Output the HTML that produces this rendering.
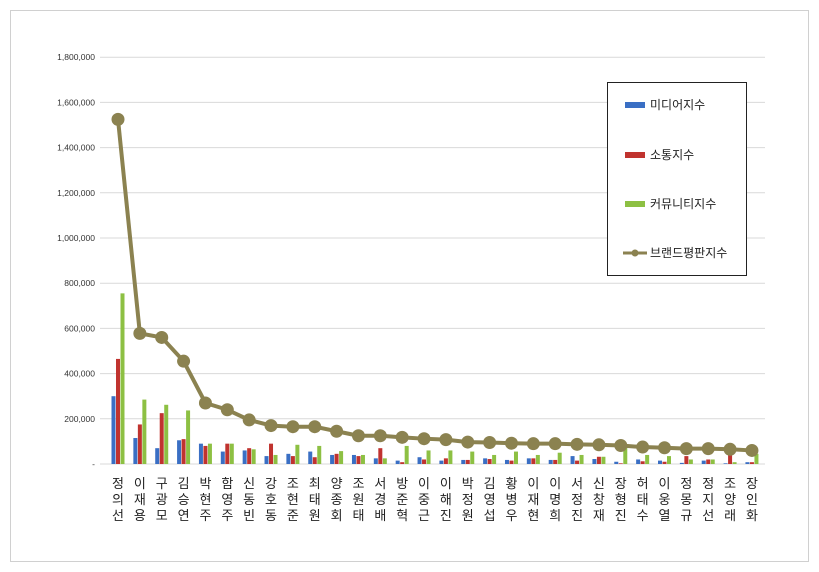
<!DOCTYPE html>
<html><head><meta charset="utf-8"><style>
body{margin:0;background:#fff;}
svg{display:block;font-family:"Liberation Sans","Noto Sans CJK KR",sans-serif;}
</style></head><body>
<svg id="c" width="819" height="572" xmlns="http://www.w3.org/2000/svg">
<rect x="10.5" y="10.5" width="798" height="551" fill="#fff" stroke="#d0d0d0"/>
<g id="g"></g>
<rect x="607.5" y="82.5" width="139" height="193" fill="#fff" stroke="#222"/>
<rect x="625" y="102" width="20" height="6" fill="#3a6fc4"/>
<text x="650" y="109" font-size="12" fill="#222">미디어지수</text>
<rect x="625" y="152" width="20" height="6" fill="#c0332f"/>
<text x="650" y="159" font-size="12" fill="#222">소통지수</text>
<rect x="625" y="201" width="20" height="6" fill="#8dc043"/>
<text x="650" y="208" font-size="12" fill="#222">커뮤니티지수</text>
<line x1="623" y1="253" x2="647" y2="253" stroke="#8b8250" stroke-width="3"/>
<circle cx="635" cy="253" r="3.5" fill="#8b8250"/>
<text x="650" y="257" font-size="12" fill="#222">브랜드평판지수</text>
</svg>
<script>
var names=["정의선","이재용","구광모","김승연","박현주","함영주","신동빈","강호동","조현준","최태원","양종회","조원태","서경배","방준혁","이중근","이해진","박정원","김영섭","황병우","이재현","이명희","서정진","신창재","장형진","허태수","이웅열","정몽규","정지선","조양래","장인화"];
var d=[[300,465,755,1525],[115,175,285,578],[70,225,262,560],[105,110,237,455],[90,80,90,270],[55,90,90,240],[60,70,65,195],[35,90,40,170],[45,35,85,165],[55,30,80,165],[40,45,57,145],[40,35,40,125],[25,70,25,125],[15,8,80,118],[30,20,60,112],[15,25,60,108],[18,18,55,97],[25,22,40,95],[18,15,55,92],[25,25,40,90],[18,18,50,90],[35,15,40,87],[22,32,32,85],[10,3,80,82],[20,12,40,75],[15,10,35,72],[5,35,20,68],[15,20,20,68],[3,45,8,65],[8,8,45,60]];
var B=464,S=45.2/200,h="";
for(var i=0;i<=9;i++){var y=B-i*200*S;
 h+='<line x1="100" x2="765" y1="'+y+'" y2="'+y+'" stroke="#d9d9d9"/>';
 var l=i==0?"-":(i*200000).toLocaleString("en-US");
 h+='<text x="95" y="'+(y+3)+'" font-size="8.5" text-anchor="end" fill="#333">'+l+'</text>';}
var cols=["#3a6fc4","#c0332f","#8dc043"],pts=[];
for(var k=0;k<30;k++){var cx=118+k*21.86;
 for(var j=0;j<3;j++){var v=d[k][j]*S;h+='<rect x="'+(cx-6.5+j*4.5)+'" y="'+(B-v)+'" width="4" height="'+v+'" fill="'+cols[j]+'"/>';}
 pts.push([cx,B-d[k][3]*S]);
 for(var c=0;c<3;c++)h+='<text x="'+cx+'" y="'+(488+c*16)+'" font-size="13" text-anchor="middle" fill="#222">'+names[k][c]+'</text>';}
h+='<polyline fill="none" stroke="#8b8250" stroke-width="4" stroke-linejoin="round" points="'+pts.map(function(p){return p.join(",")}).join(" ")+'"/>';
pts.forEach(function(p){h+='<circle cx="'+p[0]+'" cy="'+p[1]+'" r="6.5" fill="#8b8250"/>';});
document.getElementById("g").innerHTML=h;
</script>
</body></html>
